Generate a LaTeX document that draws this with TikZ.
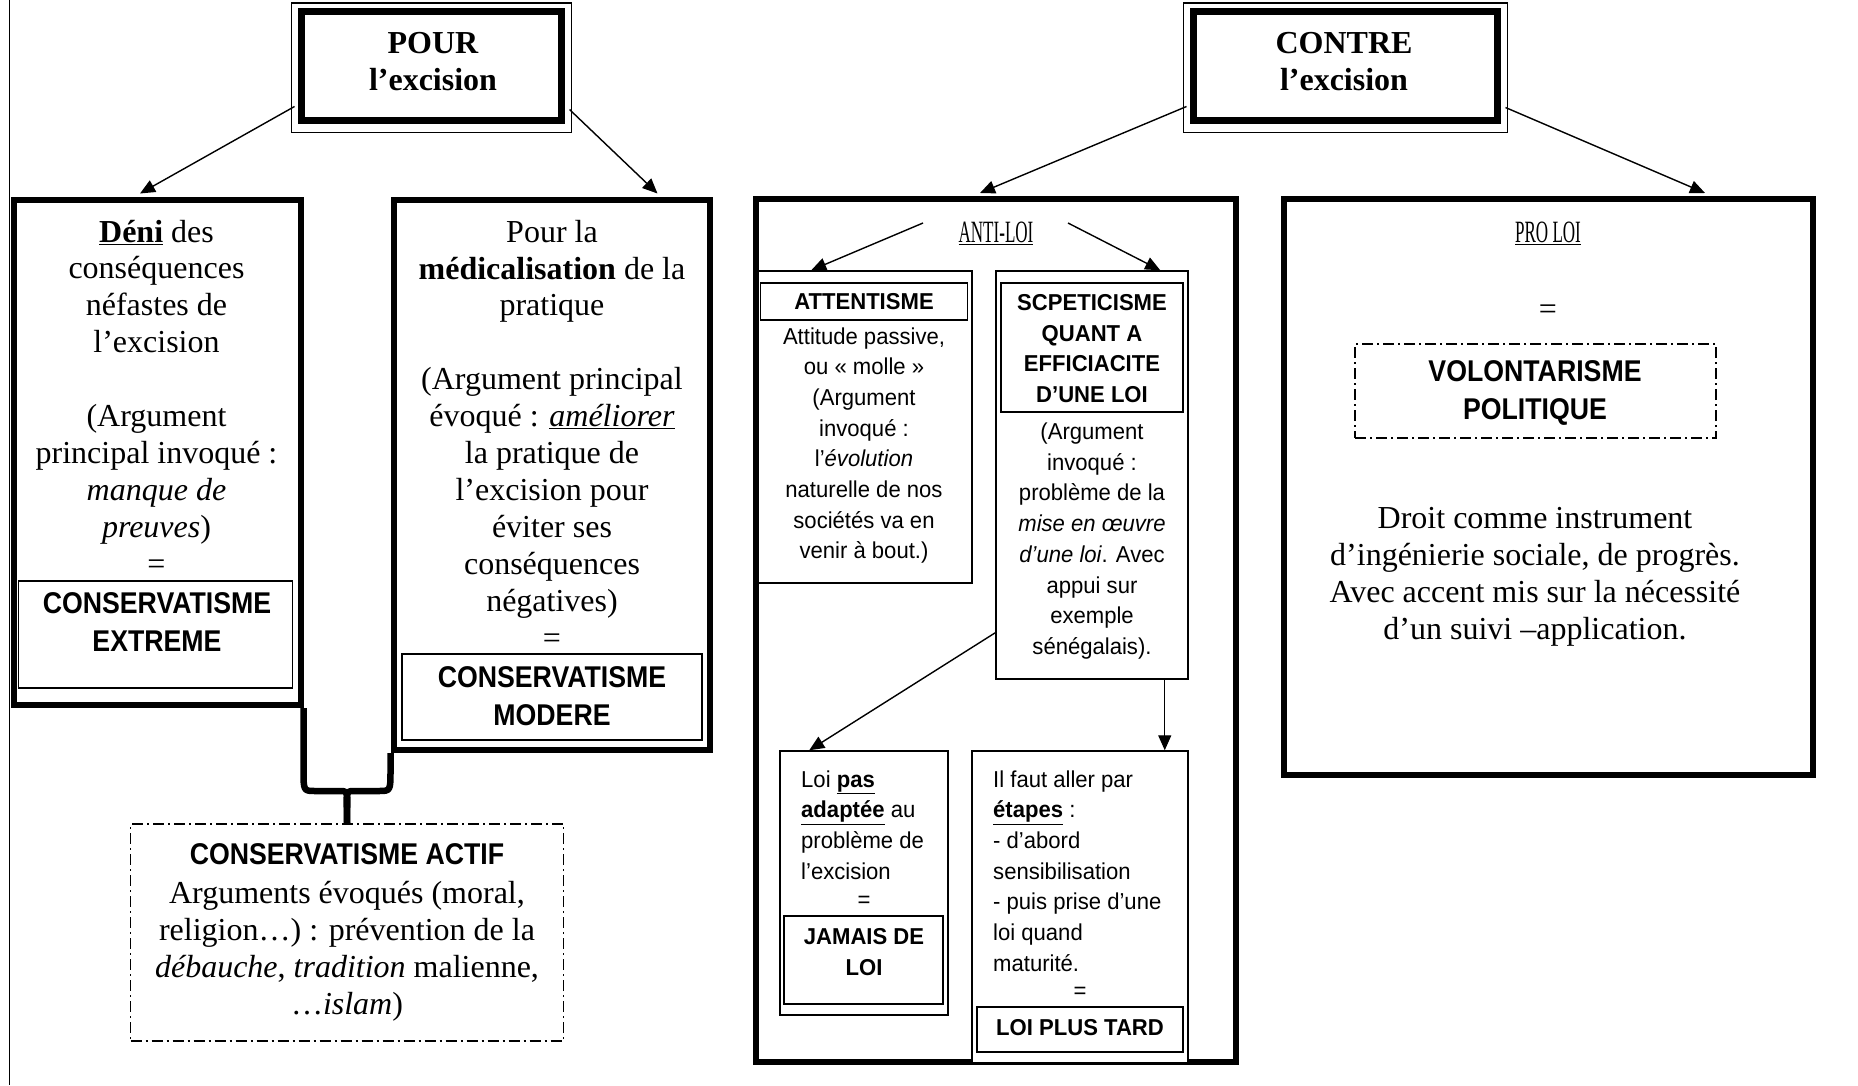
\documentclass[tikz,border=0pt]{standalone}
\usepackage{fontspec}
\setmainfont{Liberation Serif}
\newfontfamily\sansnarA[FakeStretch=0.96]{Liberation Sans}
\newfontfamily\sansnarB[FakeStretch=0.89]{Liberation Sans}
\newfontfamily\decofam[FakeStretch=0.55]{Liberation Serif}
\usetikzlibrary{arrows.meta,calc}
\newcommand\tmf{\fontsize{32}{36.9}\selectfont}
\newcommand\smsf{\sansnarA\fontsize{23}{30.7}\selectfont}
\newcommand\smbf{\sansnarA\bfseries\fontsize{23}{30.5}\selectfont}
\newcommand\bgbf{\sansnarB\bfseries\fontsize{30}{37.5}\selectfont}
\newcommand\decof{\decofam\fontsize{31}{36}\selectfont}
\tikzset{
  fr/.style={draw, line width=6pt, inner sep=0pt},
  dbl/.style={draw, line width=7pt, inner sep=0pt},
  thinbox/.style={draw, line width=1.5pt, inner sep=0pt},
  ddbox/.style={draw, line width=1.3pt, dash pattern=on 11pt off 4pt on 2pt off 4pt, inner sep=0pt},
  txt/.style={inner sep=0pt, align=center},
  ltxt/.style={inner sep=0pt, align=left, anchor=west},
  arr/.style={line width=1.4pt, -{Triangle[length=15pt,width=13pt]}},
}
\begin{document}
\begin{tikzpicture}[x=1pt,y=-1pt]
\fill[white] (0,0) rectangle (1858,1085);
\useasboundingbox (0,0) rectangle (1858,1085);

% left rule
\draw[line width=1.3pt] (9.5,0) -- (9.5,1085);

% heading boxes (thick-thin border)
\node[dbl, minimum width=260pt, minimum height=109pt] (pour) at (431.5,66) {};
\draw[line width=1.2pt] ($(pour.north west)+(-6.5,-5)$) rectangle ($(pour.south east)+(6.5,8.5)$);
\node[dbl, minimum width=304pt, minimum height=109pt] (contre) at (1345.5,66) {};
\draw[line width=1.2pt] ($(contre.north west)+(-6.5,-5)$) rectangle ($(contre.south east)+(6.5,8.5)$);

% thick frames
\node[fr, minimum width=287pt, minimum height=505.5pt] (deni) at (157,452.25) {};
\node[fr, minimum width=316.5pt, minimum height=550.5pt] (medic) at (551.75,474.75) {};
\node[fr, minimum width=480pt, minimum height=863pt] (anti) at (996,630.5) {};
\node[fr, minimum width=529pt, minimum height=576pt] (prol) at (1548.5,487) {};

% thin boxes
\node[thinbox, minimum width=274pt, minimum height=107pt] (dext) at (155.5,634.5) {};
\node[thinbox, minimum width=300pt, minimum height=86pt] (dmod) at (552,697) {};
\node[thinbox, minimum width=215pt, minimum height=312pt] (att) at (864.5,427) {};
\node[thinbox, minimum width=207pt, minimum height=37pt] (attb) at (864,301.5) {};
\node[thinbox, minimum width=192pt, minimum height=408pt] (scep) at (1092,475) {};
\node[thinbox, minimum width=182pt, minimum height=129pt] (scepb) at (1092,347.5) {};
\node[thinbox, minimum width=168pt, minimum height=264pt] (jam) at (864,883) {};
\node[thinbox, minimum width=159pt, minimum height=88pt] (jamb) at (863.5,960) {};
\node[thinbox, fill=white, minimum width=216pt, minimum height=312pt] (tard) at (1080,907) {};
\node[thinbox, minimum width=206pt, minimum height=45pt] (tardb) at (1080,1029.5) {};
\node[ddbox, minimum width=433pt, minimum height=217pt] (actif) at (347,932.5) {};
\node[ddbox, minimum width=361pt, minimum height=94pt] (volo) at (1535.5,391) {};

% brace
\draw[line width=6.5pt, line join=round]
  (deni.south east) -- ++(0,62) .. controls +(0,21) and +(-12,0) .. ++(12,21)
  -- ++(26,0) .. controls +(8,0) and +(0,-27) .. (actif.north);
\draw[line width=6.5pt, line join=round]
  (medic.south west) -- ++(0,17) .. controls +(0,21) and +(12,0) .. ++(-12,21)
  -- ++(-26,0) .. controls +(-8,0) and +(0,-27) .. (actif.north);

% arrows
\draw[arr] ($(pour.south west)+(-3.5,-17.5)$) -- ($(deni.north west)+(129.5,-3)$);
\draw[arr] ($(pour.south east)+(4.5,-14.5)$) -- ($(medic.north west)+(267,-3)$);
\draw[arr] ($(contre.south west)+(-3.5,-17.5)$) -- ($(anti.north west)+(227,-3)$);
\draw[arr] ($(contre.south east)+(4.5,-16.5)$) -- ($(prol.north west)+(424,-3)$);
\coordinate (a1) at (923,223);
\coordinate (a2) at (1068,223);
\draw[arr] (a1) -- ($(att.north west)+(55,0)$);
\draw[arr] (a2) -- ($(scep.north west)+(165,0)$);
\draw[arr] ($(scep.south west)+(0,-47)$) -- ($(jam.north west)+(30,0)$);
\draw[arr] ($(scep.south east)+(-24,0)$) -- ($(tard.north east)+(-24,0)$);

% texts
\node[txt, font=\tmf\bfseries] (pourT) at (433,62) {POUR\\l’excision};
\node[txt, font=\tmf\bfseries] (contreT) at (1344,62) {CONTRE\\l’excision};

\node[txt, font=\tmf] (deniT) at (156.5,397) {\underline{\textbf{Déni}} des\\conséquences\\néfastes de\\l’excision\\[36.9pt](Argument\\principal invoqué :\\\textit{manque de}\\\textit{preuves})\\=};
\node[txt, font=\bgbf] (dextT) at (157,622) {CONSERVATISME\\EXTREME};

\node[txt, font=\tmf] (medicT) at (552,434) {Pour la\\\textbf{médicalisation} de la\\pratique\\[36.9pt](Argument principal\\évoqué : \underline{\textit{améliorer}}\\la pratique de\\l’excision pour\\éviter ses\\conséquences\\négatives)\\=};
\node[txt, font=\bgbf] (dmodT) at (552,696) {CONSERVATISME\\MODERE};

\node[txt, font=\bgbf] (actifH) at (347,854) {CONSERVATISME ACTIF};
\node[txt, font=\tmf] (actifT) at (347,951) {Arguments évoqués (moral,\\religion…) : prévention de la\\\textit{débauche}, \textit{tradition} malienne,\\…\textit{islam})};

\node[txt, font=\decof] (antiT) at (996,233) {\underline{ANTI-LOI}};
\node[txt, font=\smbf] (attH) at (864,302) {ATTENTISME};
\node[txt, font=\smsf] (attT) at (864,445.5) {Attitude passive,\\ou « molle »\\(Argument\\invoqué :\\l’\textit{évolution}\\naturelle de nos\\sociétés va en\\venir à bout.)};
\node[txt, font=\smbf] (scepH) at (1092,348.5) {SCPETICISME\\QUANT A\\EFFICIACITE\\D’UNE LOI};
\node[txt, font=\smsf] (scepT) at (1092,541) {(Argument\\invoqué :\\problème de la\\\textit{mise en œuvre}\\\textit{d’une loi}. Avec\\appui sur\\exemple\\sénégalais).};

\node[ltxt, font=\smsf] (jamT) at (801,825) {Loi \underline{\textbf{pas}}\\\underline{\textbf{adaptée}} au\\problème de\\l’excision};
\node[txt, font=\smsf] (jamEq) at (864,902) {=};
\node[txt, font=\smbf] (jamH) at (864,952) {JAMAIS DE\\LOI};

\node[ltxt, font=\smsf] (tardT) at (993,871) {Il faut aller par\\\underline{\textbf{étapes}} :\\- d’abord\\sensibilisation\\- puis prise d’une\\loi quand\\maturité.};
\node[txt, font=\smsf] (tardEq) at (1080,993) {=};
\node[txt, font=\smbf] (tardH) at (1080,1028) {LOI PLUS TARD};

\node[txt, font=\decof] (proT) at (1548,233) {\underline{PRO LOI}};
\node[txt, font=\tmf] (proEq) at (1548,312) {=};
\node[txt, font=\bgbf] (voloT) at (1535,393) {VOLONTARISME\\POLITIQUE};
\node[txt, font=\tmf] (droitT) at (1535,577) {Droit comme instrument\\d’ingénierie sociale, de progrès.\\Avec accent mis sur la nécessité\\d’un suivi –application.};
\end{tikzpicture}
\end{document}
